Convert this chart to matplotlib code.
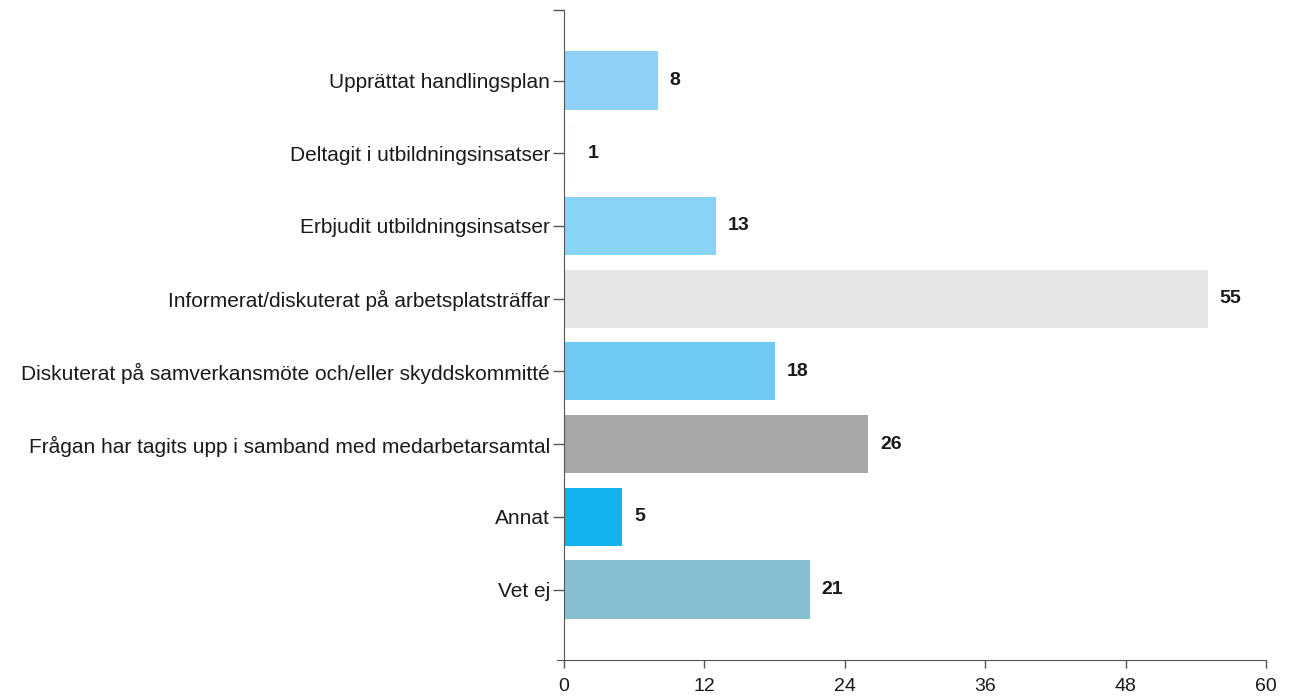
import matplotlib
matplotlib.use("Agg")
import matplotlib.pyplot as plt

plt.rcParams['font.family'] = ['Liberation Sans', 'DejaVu Sans']

categories = [
    "Upprättat handlingsplan",
    "Deltagit i utbildningsinsatser",
    "Erbjudit utbildningsinsatser",
    "Informerat/diskuterat på arbetsplatsträffar",
    "Diskuterat på samverkansmöte och/eller skyddskommitté",
    "Frågan har tagits upp i samband med medarbetarsamtal",
    "Annat",
    "Vet ej",
]
values = [8, 1, 13, 55, 18, 26, 5, 21]
colors = ["#8ed1f4", "#fdfdfd", "#88d4f5", "#e4e6e7", "#6fc9f2", "#a6a8a9", "#12b3ee", "#88bed1"]
xticks = [0, 12, 24, 36, 48, 60]

fig = plt.figure(figsize=(12.92, 6.97), dpi=100)
ax = fig.add_axes([0.4365, 0.053, 0.5435, 0.9327])

pos = list(range(len(categories)))
ax.barh(pos, values, height=0.8, color=colors)
for p, v in zip(pos, values):
    ax.text(v + 1.0, p, str(v), va='center', ha='left', fontsize=14, fontweight='bold', color='#1a1a1a')

ax.set_ylim(7.97, -0.97)
ax.set_xlim(0, 60)
ax.set_yticks(pos)
ax.set_yticklabels(categories, fontsize=15, color='#1a1a1a')
ax.set_yticks([-0.97], minor=True)
ax.set_xticks(xticks)
ax.set_xticklabels([str(t) for t in xticks], fontsize=14, color='#1a1a1a')
ax.tick_params(axis='y', which='both', length=8, width=1, color='#555555', pad=2)
ax.tick_params(axis='x', length=6, width=1, color='#555555', pad=7)

for s in ['top', 'right']:
    ax.spines[s].set_visible(False)
ax.spines['left'].set_color('#555555')
ax.spines['bottom'].set_color('#555555')
ax.spines['bottom'].set_bounds(-0.6, 60)

fig.savefig("out.png", dpi=100, facecolor='white')
